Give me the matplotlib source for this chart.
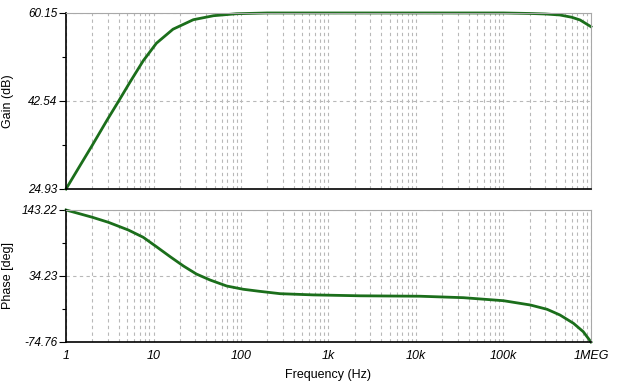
import matplotlib
matplotlib.use('Agg')
import matplotlib.pyplot as plt
from matplotlib.ticker import FixedLocator, NullFormatter, LogLocator

plt.rcParams['font.family'] = ['Liberation Sans', 'DejaVu Sans']

# values
gain_freq = [1, 1.445, 2, 2.92, 3.96, 5.38, 7.64, 10.8, 16.7, 28.5, 48.4, 89, 200,
             1e3, 1e4, 1e5, 2e5, 3e5, 4.4e5, 6e5, 7.5e5, 1e6]
gain_db = [24.93, 29.6, 33.7, 38.6, 42.4, 46.3, 50.6, 54.1, 56.9, 58.8, 59.6,
           60.0, 60.15, 60.15, 60.15, 60.15, 60.05, 59.95, 59.75, 59.3, 58.75, 57.4]

phase_freq = [1, 2, 3.05, 5.15, 7.64, 10.8, 15.5, 22.0, 30.9, 44.3, 68.6, 106, 161,
              280, 670, 2300, 11100, 34800, 1e5, 2.03e5, 3.15e5, 4.42e5, 6.3e5,
              8.15e5, 1e6]
phase_deg = [143.22, 131.2, 122.9, 110.2, 98.1, 82.6, 66.1, 50.7, 37.5, 27.6, 17.7,
             12.3, 9.0, 5.0, 3.0, 1.5, 0.8, -1.6, -6.6, -13.7, -20.8, -30.2, -43.9,
             -57.7, -74.76]

gain_ticks = [24.93, 42.54, 60.15]
phase_ticks = [-74.76, 34.23, 143.22]
freq_ticks = [1, 10, 100, 1e3, 1e4, 1e5, 1e6]
freq_labels = ['1', '10', '100', '1k', '10k', '100k', '1MEG']

line_color = '#1b6e1b'
grid_color = '#b8b8b8'

fig = plt.figure(figsize=(6.18, 3.92), dpi=100)
ax1 = fig.add_axes([0.1068, 0.5179, 0.8495, 0.449])
ax2 = fig.add_axes([0.1068, 0.1276, 0.8495, 0.3367])


def style_axis(ax, ticks, label):
    ax.set_xscale('log')
    ax.set_xlim(1, 1e6)
    ax.set_ylim(ticks[0], ticks[-1])
    ax.set_yticks(ticks)
    ax.set_yticklabels(['%.2f' % t for t in ticks], fontstyle='italic', fontsize=8.5)
    mids = [(ticks[0] + ticks[1]) / 2, (ticks[1] + ticks[2]) / 2]
    ax.yaxis.set_minor_locator(FixedLocator(mids))
    ax.set_xticks(freq_ticks)
    ax.xaxis.set_minor_locator(LogLocator(base=10, subs=range(2, 10), numticks=20))
    ax.xaxis.set_minor_formatter(NullFormatter())
    ax.grid(True, which='both', axis='x', color=grid_color, linestyle=(0, (3, 3)), linewidth=0.8)
    ax.grid(True, which='major', axis='y', color=grid_color, linestyle=(0, (3, 3)), linewidth=0.8)
    ax.tick_params(axis='x', which='both', length=0)
    ax.tick_params(axis='y', which='major', length=5, width=0.8, pad=1)
    ax.tick_params(axis='y', which='minor', length=3, width=0.8)
    for s in ['top', 'right']:
        ax.spines[s].set_color('#a8a8a8')
    for s in ['left', 'bottom']:
        ax.spines[s].set_color('black')
        ax.spines[s].set_linewidth(1.2)
    ax.set_ylabel(label, fontsize=9)
    ax.yaxis.set_label_coords(-0.1, 0.5)


ax1.plot(gain_freq, gain_db, color=line_color, linewidth=2.0, clip_on=False)
style_axis(ax1, gain_ticks, 'Gain (dB)')
ax1.set_xticklabels([])

ax2.plot(phase_freq, phase_deg, color=line_color, linewidth=2.0, clip_on=False)
style_axis(ax2, phase_ticks, 'Phase [deg]')
ax2.set_xticklabels(freq_labels, fontstyle='italic', fontsize=9)
ax2.tick_params(axis='x', which='major', pad=6)
ax2.set_xlabel('Frequency (Hz)', fontsize=9, labelpad=5)

fig.savefig('out.png', dpi=100)
